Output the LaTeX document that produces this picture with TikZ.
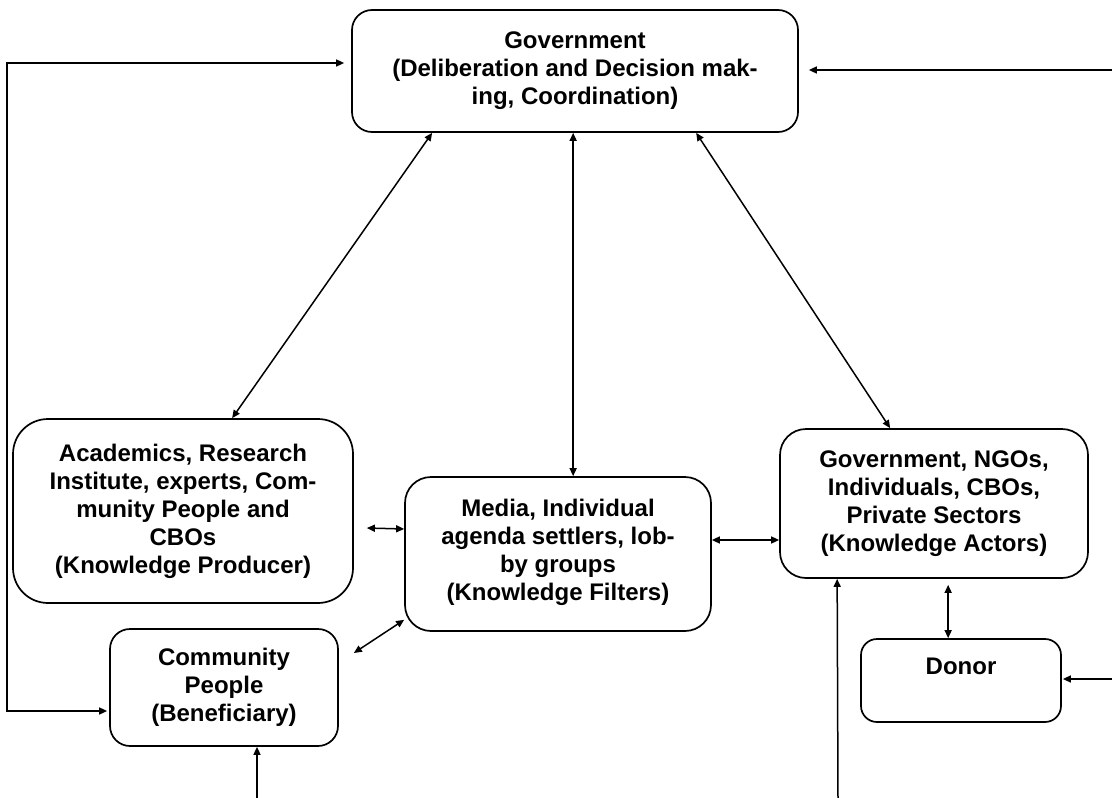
\documentclass[tikz,border=0pt]{standalone}
\usepackage{fontspec}
\setmainfont{Liberation Sans}
\usetikzlibrary{arrows.meta}
\tikzset{
  box/.style={draw, line width=1.7pt, rectangle, align=center, inner sep=0pt,
    font=\fontsize{24}{28}\selectfont\bfseries},
  tipa/.tip={Triangle[length=8pt,width=7pt]},
  link/.style={line width=1.5pt, tipa-tipa},
  feed/.style={line width=1.5pt, -tipa},
}
\begin{document}
\begin{tikzpicture}[x=1pt,y=-1pt]
\useasboundingbox (0,0) rectangle (1112,798);
% nodes
\node[box, rounded corners=20pt, minimum width=446pt, minimum height=122pt] (gov) at (575,71)
  {Government\\(Deliberation and Decision mak-\\ing, Coordination)};
\node[box, rounded corners=35pt, minimum width=340pt, minimum height=184pt] (acad) at (183,511)
  {Academics, Research\\Institute, experts, Com-\\munity People and\\CBOs\\(Knowledge Producer)};
\node[box, rounded corners=26pt, minimum width=306pt, minimum height=154pt] (media) at (558,554)
  {Media, Individual\\agenda settlers, lob-\\by groups\\(Knowledge Filters)\\[-20pt]\mbox{}};
\node[box, rounded corners=26pt, minimum width=308pt, minimum height=149pt] (actors) at (934,503.5)
  {Government, NGOs,\\Individuals, CBOs,\\Private Sectors\\(Knowledge Actors)};
\node[box, rounded corners=20pt, minimum width=228pt, minimum height=117pt] (comm) at (224,687.5)
  {Community\\People\\(Beneficiary)};
\node[box, rounded corners=16pt, minimum width=200pt, minimum height=83pt] (donor) at (961,680.5)
  {Donor\\\phantom{D}};
% free ends
\coordinate (lt) at (7,63);
\coordinate (lb) at (7,711);
\coordinate (rt) at (1112,70);
\coordinate (rd) at (1112,679);
\coordinate (cb) at (257,798);
\coordinate (ab) at (838,798);
% connectors
\draw[link] ([xshift=81pt]gov.south west) -- ([xshift=220pt]acad.north west);
\draw[link] ([xshift=222pt]gov.south west) -- ([xshift=169pt]media.north west);
\draw[link] ([xshift=345pt]gov.south west) -- ([xshift=111pt]actors.north west);
\draw[link] ([shift={(13pt,-17pt)}]acad.east) -- ([yshift=25pt]media.west);
\draw[link] ([yshift=14pt]media.east) -- ([yshift=-36.5pt]actors.west);
\draw[link] ([yshift=12pt]media.south west) -- ([shift={(15pt,34.5pt)}]comm.east);
\draw[link] ([shift={(169pt,-6pt)}]actors.south west) -- ([xshift=88pt]donor.north west);
\draw[link] ([shift={(-7pt,8pt)}]gov.west) -- (lt) -- (lb) -- ([shift={(-2pt,-23.5pt)}]comm.west);
\draw[feed] (rt) -- ([shift={(10pt,1pt)}]gov.east);
\draw[feed] (rd) -- ([shift={(1pt,1.5pt)}]donor.east);
\draw[feed] (cb) -- ([xshift=33pt]comm.south);
\draw[feed] (ab) -- ([xshift=58pt]actors.south west);
\end{tikzpicture}
\end{document}
